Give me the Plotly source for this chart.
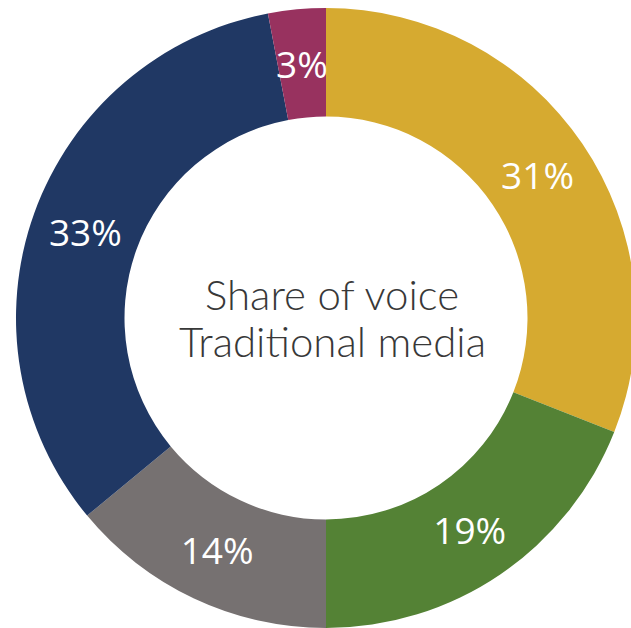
import math
import plotly.graph_objects as go

# Share of voice in traditional media, by brand
brands = ["Brand A", "Brand B", "Brand C", "Brand D", "Brand E"]
shares = [31, 19, 14, 33, 3]
colors = ["#D6AA30", "#548235", "#767171", "#203864", "#98325F"]
center_title = ["Share of voice", "Traditional media"]

W, H = 640, 628
CX, CY, R = 326, 318, 310          # donut centre and outer radius, px
HOLE = 0.65

labels_txt = [f"{v}%" for v in shares]
# small slices keep their full-size label, drawn on top of the slice
small = [v < 5 for v in shares]
positions = ["none" if s else "inside" for s in small]

label_font = dict(family="Open Sans", size=37, color="white")

fig = go.Figure(
    go.Pie(
        labels=brands,
        values=shares,
        text=labels_txt,
        textinfo="text",
        textposition=positions,
        insidetextorientation="horizontal",
        textfont=label_font,
        marker=dict(colors=colors, line=dict(width=0)),
        hole=HOLE,
        sort=False,
        direction="clockwise",
        rotation=0,
        showlegend=False,
        hoverinfo="label+percent",
        domain=dict(x=[(CX - R) / W, (CX + R) / W],
                    y=[1 - (CY + R) / H, 1 - (CY - R) / H]),
    )
)

# labels for the narrow slices, at the slice's mid-angle and mid-ring radius
total = sum(shares)
cum = 0
r_mid = R * (1 + HOLE) / 2
for v, t, s in zip(shares, labels_txt, small):
    mid = (cum + v / 2) / total * 2 * math.pi
    cum += v
    if not s:
        continue
    fig.add_annotation(
        text=t, showarrow=False,
        x=(CX + r_mid * math.sin(mid)) / W,
        y=1 - (CY - r_mid * math.cos(mid)) / H,
        xref="paper", yref="paper",
        xanchor="center", yanchor="middle",
        font=label_font,
    )

# centre title, one annotation per line
for line, ypix in zip(center_title, [294, 341]):
    fig.add_annotation(
        text=line, showarrow=False,
        x=332 / W, y=1 - ypix / H,
        xref="paper", yref="paper",
        xanchor="center", yanchor="middle",
        font=dict(family="Lato", size=42, color="#383838", weight=300),
    )

fig.update_layout(
    width=W, height=H,
    margin=dict(l=0, r=0, t=0, b=0),
    paper_bgcolor="white",
    plot_bgcolor="white",
)

fig.write_html(
    "out.html",
    post_script="document.body.style.margin='0';document.body.style.overflow='hidden';",
)
